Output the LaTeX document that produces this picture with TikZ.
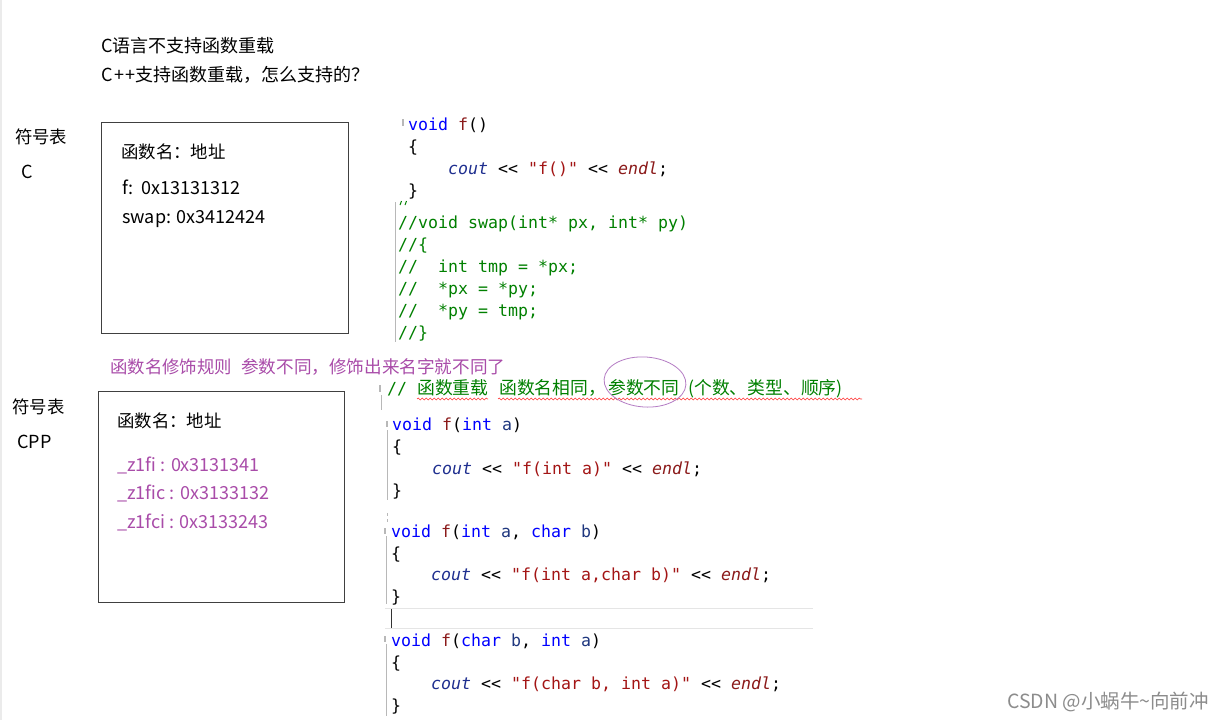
\documentclass[tikz,border=0pt]{standalone}
\usepackage{fontspec}
\setmainfont{Noto Sans CJK SC}
\setmonofont{DejaVu Sans Mono}
\usetikzlibrary{decorations.pathmorphing}
\definecolor{kwblue}{HTML}{0000FF}
\definecolor{fnred}{HTML}{8B1A1A}
\definecolor{strred}{HTML}{A31515}
\definecolor{varblue}{HTML}{1F2F8F}
\definecolor{parblue}{HTML}{1F377F}
\definecolor{cmtgreen}{HTML}{008000}
\definecolor{mypurple}{HTML}{A94CA9}
\definecolor{ringpurple}{HTML}{B47CC4}
\definecolor{boxgray}{HTML}{404040}
\definecolor{guidegray}{HTML}{B8B8B8}
\newcommand\ckw[1]{\textcolor{kwblue}{#1}}
\newcommand\cfn[1]{\textcolor{fnred}{#1}}
\newcommand\cstr[1]{\textcolor{strred}{#1}}
\newcommand\cvar[1]{\textcolor{varblue}{\itshape #1}}
\newcommand\cendl{\textcolor{fnred}{\itshape endl}}
\newcommand\cpar[1]{\textcolor{parblue}{#1}}
\newcommand\cout{\cvar{cout} <{}< }
\tikzset{
  txt/.style={anchor=base west, inner sep=0pt, font=\fontsize{17.4}{20}\selectfont},
  lat/.style={anchor=base west, inner sep=0pt, font=\fontsize{18}{20}\selectfont},
  title/.style={txt, font=\fontsize{18}{22}\selectfont},
  code/.style={anchor=base west, inner sep=0pt, font=\ttfamily\fontsize{16.6}{20}\selectfont},
  cmt/.style={code, text=cmtgreen},
  cmtcjk/.style={anchor=base west, inner sep=0pt, text=cmtgreen, font=\fontsize{17.8}{20}\selectfont},
  symbox/.style={draw=boxgray, line width=0.9pt},
  guide/.style={draw=guidegray, line width=0.8pt},
  squiggle/.style={draw=red!80!white, line width=0.6pt, decorate, decoration={snake, amplitude=0.9pt, segment length=4pt}},
}
\begin{document}
\begin{tikzpicture}[x=1pt,y=-1pt]
\useasboundingbox (0,0) rectangle (1224,720);
\fill[white] (0,0) rectangle (1224,720);
\fill[black!8] (0,0) rectangle (2,720);

% titles
\node[title] (t1) at (101,52) {C语言不支持函数重载};
\node[title] (t2) at (101,81) {C{\kern1.5pt}+{\kern1.5pt}+支持函数重载，怎么支持的？};

% C symbol table
\node[txt] (fh1) at (15,143) {符号表};
\node[lat] (fc1) at (21,178) {C};
\draw[symbox] (101,122) rectangle (348,333);
\node[txt] (h1) at (121,158) {函数名：地址};
\node[lat] (e1) at (122,194) {f:\ \ 0x13131312};
\node[lat] (e2) at (122,223) {swap: 0x3412424};

% C code
\node[code] (c1) at (408,130) {\ckw{void} \cfn{f}()};
\node[code] (c2) at (408,152) {\{};
\node[code] (c3) at (448,174) {\cout\cstr{"f()"} <{}< \cendl;};
\node[code] (c4) at (408,196) {\}};
\fill[guidegray] (402,119) rectangle (404,126);
\draw[guide] (395,202) -- (395,342);
\draw[cmtgreen, line width=1pt] (400,205) -- (401.5,201) (405,205) -- (406.5,201);
\node[cmt] (c6) at (398,228) {//void swap(int* px, int* py)};
\node[cmt] (c7) at (398,250) {//\{};
\node[cmt] (c8) at (398,272) {//\ \ int tmp = *px;};
\node[cmt] (c9) at (398,294) {//\ \ *px = *py;};
\node[cmt] (c10) at (398,316) {//\ \ *py = tmp;};
\node[cmt] (c11) at (398,338) {//\}};

% purple remark
\node[txt, text=mypurple] (p1) at (110,373) {函数名修饰规则};
\node[txt, text=mypurple, font=\fontsize{17.6}{20}\selectfont] (p2) at (241,373) {参数不同，修饰出来名字就不同了};

% CPP symbol table
\node[txt] (fh2) at (12,413) {符号表};
\node[lat] (fc2) at (17,448) {CPP};
\draw[symbox] (98,391) rectangle (344,602);
\node[txt] (h2) at (117,427) {函数名：地址};
\node[lat, text=mypurple] (m1) at (117,471) {\_z1fi : 0x3131341};
\node[lat, text=mypurple] (m2) at (117,499) {\_z1fic : 0x3133132};
\node[lat, text=mypurple] (m3) at (117,528) {\_z1fci : 0x3133243};

% overload comment
\fill[guidegray] (379,385) rectangle (381,392);
\draw[guide] (381,395) -- (381,410);
\node[cmt] (ov0) at (387,394) {//};
\node[cmtcjk] (ov1) at (417,394) {函数重载};
\node[cmtcjk] (ov2) at (499,394) {函数名相同，};
\node[cmtcjk] (ov3) at (608,394) {参数不同};
\node[cmtcjk] (ov4) at (688,394) {(个数、类型、顺序)};
\draw[squiggle] (417,399) -- (488,399);
\draw[squiggle] (498,399) -- (862,399);
\draw[ringpurple, line width=0.8pt, rotate around={-4:(645,382)}] (645,382) ellipse [x radius=41, y radius=25];

% CPP code 1
\fill[guidegray] (386,421) rectangle (388,427);
\draw[guide] (387,430) -- (387,500);
\node[code] (d1) at (392,430) {\ckw{void} \cfn{f}(\ckw{int} \cpar{a})};
\node[code] (d2) at (392,452) {\{};
\node[code] (d3) at (432,474) {\cout\cstr{"f(int a)"} <{}< \cendl;};
\node[code] (d4) at (392,496) {\}};
\draw[guide, dashed] (387,513) -- (387,524);

% CPP code 2
\fill[guidegray] (384,528) rectangle (386,534);
\draw[guide] (386,536) -- (386,604);
\node[code] (d5) at (391,537) {\ckw{void} \cfn{f}(\ckw{int} \cpar{a}, \ckw{char} \cpar{b})};
\node[code] (d6) at (391,559) {\{};
\node[code] (d7) at (431,580) {\cout\cstr{"f(int a,char b)"} <{}< \cendl;};
\node[code] (d8) at (391,602) {\}};

% current line highlight and caret
\draw[black!10, line width=0.8pt] (385,608) -- (813,608);
\draw[black!10, line width=0.8pt] (385,628) -- (813,628);
\draw[black!80, line width=1pt] (391,609) -- (391,628);

% CPP code 3
\fill[guidegray] (384,636) rectangle (386,642);
\draw[guide] (386,644) -- (386,716);
\node[code] (d9) at (391,646) {\ckw{void} \cfn{f}(\ckw{char} \cpar{b}, \ckw{int} \cpar{a})};
\node[code] (d10) at (391,668) {\{};
\node[code] (d11) at (431,689) {\cout\cstr{"f(char b, int a)"} <{}< \cendl;};
\node[code] (d12) at (391,711) {\}};

% watermark
\node[anchor=base west, inner sep=0pt, text=black!45, font=\fontsize{19.5}{22}\selectfont] (wm) at (1007,708) {CSDN @小蜗牛\textasciitilde 向前冲};
\end{tikzpicture}
\end{document}
